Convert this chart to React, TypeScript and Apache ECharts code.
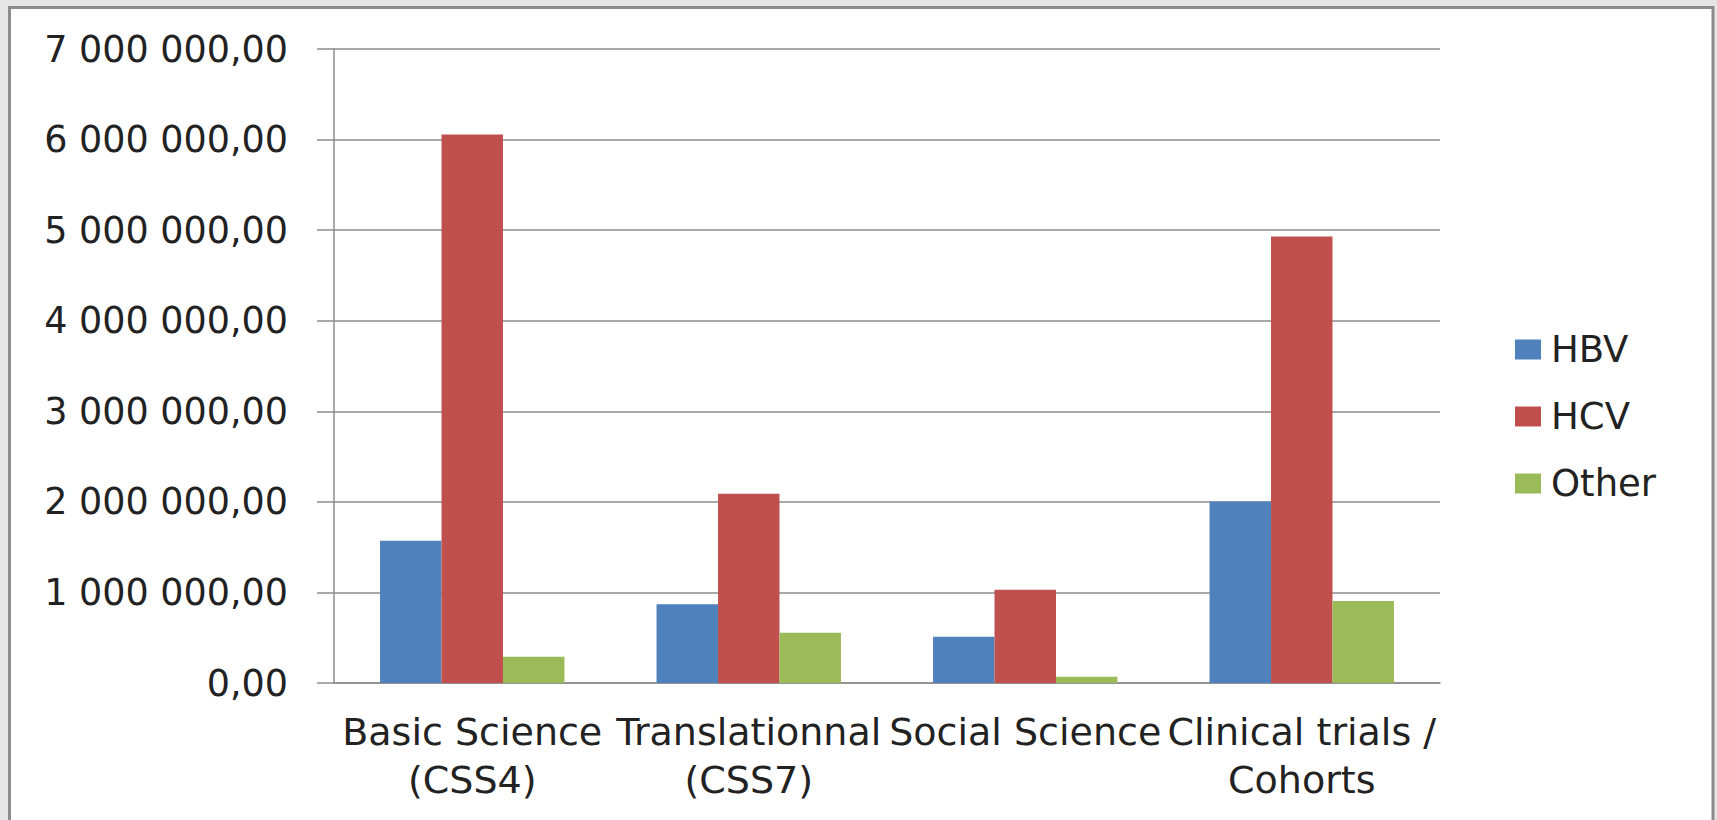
import React, { useEffect, useRef } from "react";
import * as echarts from "echarts";

const categories = [
  "Basic Science\n(CSS4)",
  "Translationnal\n(CSS7)",
  "Social Science",
  "Clinical trials /\nCohorts",
];
const hbv = [1570000, 870000, 510000, 2005000];
const hcv = [6055000, 2090000, 1030000, 4930000];
const other = [290000, 555000, 70000, 905000];
const seriesNames = ["HBV", "HCV", "Other"];
const colors = ["#4f81bd", "#c0504d", "#9bbb59"];

const fmt = (v: number) =>
  Math.round(v).toString().replace(/\B(?=(\d{3})+(?!\d))/g, " ") + ",00";

export default function App() {
  const ref = useRef<HTMLDivElement>(null);
  useEffect(() => {
    if (!ref.current) return;
    const chart = echarts.init(ref.current, null, { renderer: "svg" });
    const font = "DejaVu Sans";
    const data = [hbv, hcv, other];
    chart.setOption({
      animation: false,
      backgroundColor: "#e6e6e6",
      graphic: [
        {
          type: "rect",
          z: -10,
          shape: { x: 9.5, y: 7.5, width: 1703.5, height: 860 },
          style: { fill: "#ffffff", stroke: "#8c8c8c", lineWidth: 3 },
          silent: true,
        },
      ],
      grid: { left: 334, right: 277, top: 49, bottom: 137 },
      legend: {
        orient: "vertical",
        left: 1510,
        top: 326,
        itemWidth: 26,
        itemHeight: 20,
        itemGap: 30,
        icon: "rect",
        textStyle: {
          fontFamily: font,
          fontSize: 37,
          color: "#222",
          padding: [0, 0, 0, 5],
        },
        data: seriesNames,
      },
      xAxis: {
        type: "category",
        data: categories,
        axisLine: { lineStyle: { color: "#8c8c8c", width: 1.5 } },
        axisTick: { length: 13, lineStyle: { color: "#8c8c8c", width: 1.5 } },
        axisLabel: {
          interval: 0,
          margin: 25,
          fontFamily: font,
          fontSize: 38,
          lineHeight: 48,
          color: "#222",
        },
      },
      yAxis: {
        type: "value",
        min: 0,
        max: 7000000,
        interval: 1000000,
        axisLine: { show: true, lineStyle: { color: "#8c8c8c", width: 1.5 } },
        axisTick: { show: true, length: 17, lineStyle: { color: "#8c8c8c", width: 1.5 } },
        splitLine: { lineStyle: { color: "#8c8c8c", width: 1.5 } },
        axisLabel: {
          margin: 46,
          fontFamily: font,
          fontSize: 36.5,
          color: "#222",
          formatter: fmt,
        },
      },
      series: seriesNames.map((name, i) => ({
        name,
        type: "bar",
        data: data[i],
        barGap: "0%",
        barCategoryGap: "33.3%",
        itemStyle: { color: colors[i] },
      })),
    });
    return () => chart.dispose();
  }, []);
  return (
    <div
      ref={ref}
      style={{ position: "fixed", left: 0, top: 0, width: 1717, height: 820 }}
    />
  );
}
